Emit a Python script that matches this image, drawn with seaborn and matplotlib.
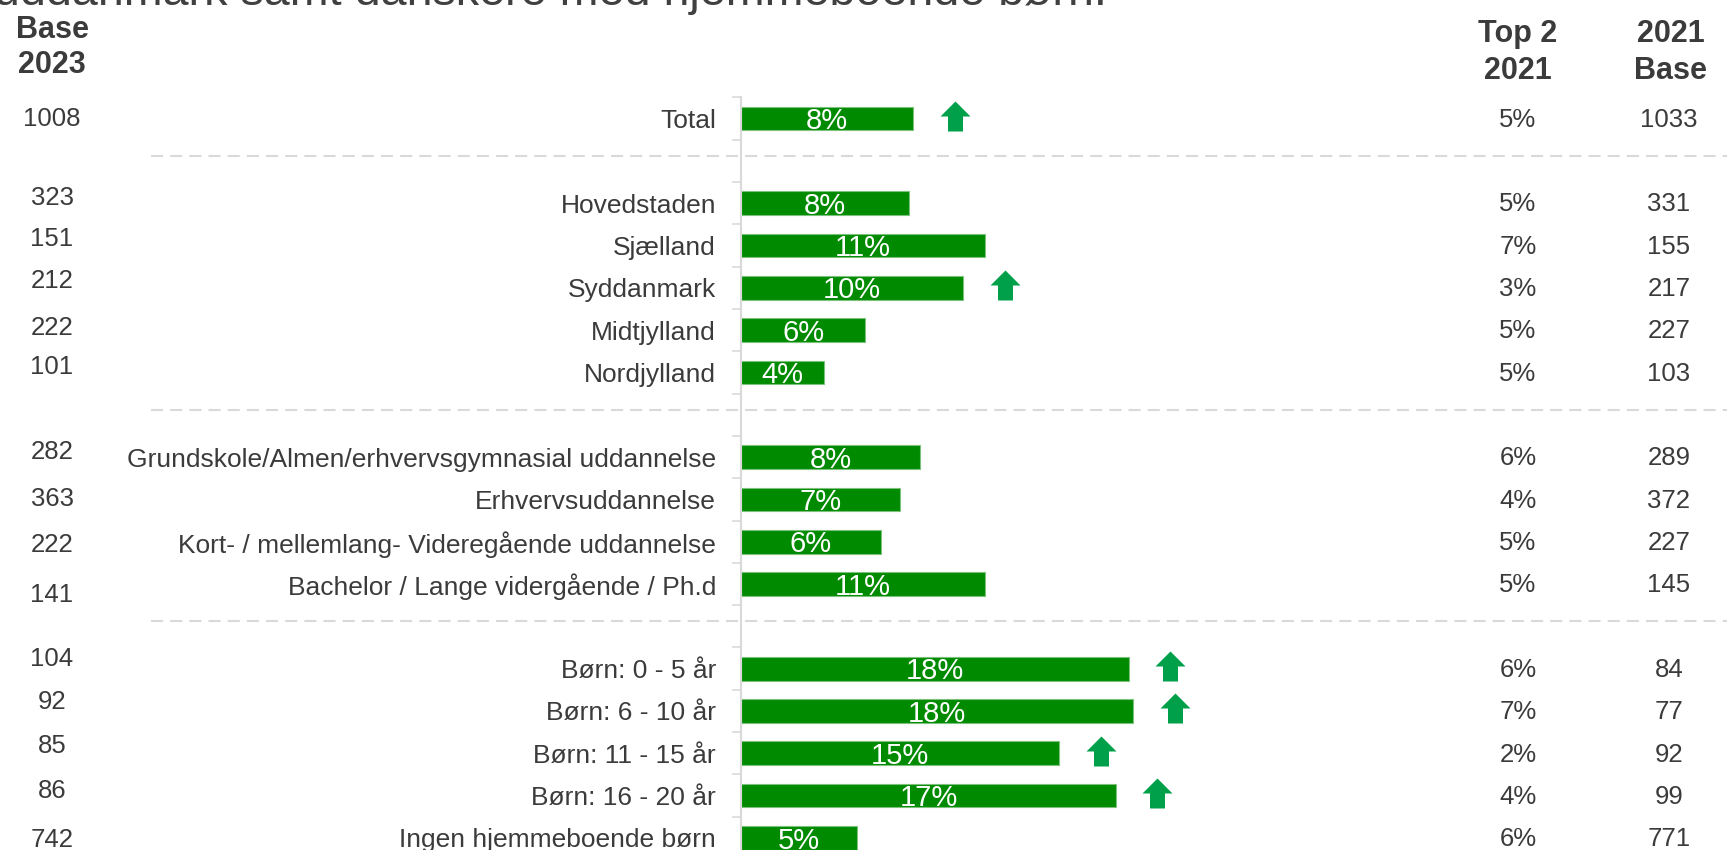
import matplotlib

matplotlib.use("Agg")

import matplotlib.pyplot as plt
import matplotlib.transforms as mtransforms
import numpy as np
import pandas as pd
import seaborn as sns
from matplotlib.path import Path


categories = [
    "Total",
    "Hovedstaden",
    "Sjælland",
    "Syddanmark",
    "Midtjylland",
    "Nordjylland",
    "Grundskole/Almen/erhvervsgymnasial uddannelse",
    "Erhvervsuddannelse",
    "Kort- / mellemlang- Videregående uddannelse",
    "Bachelor / Lange vidergående / Ph.d",
    "Børn: 0 - 5 år",
    "Børn: 6 - 10 år",
    "Børn: 11 - 15 år",
    "Børn: 16 - 20 år",
    "Ingen hjemmeboende børn",
]
group_sizes = [1, 5, 4, 5]
top2_2023 = [7.9, 7.7, 11.2, 10.2, 5.7, 3.8, 8.2, 7.3, 6.4, 11.2, 17.8, 18.0, 14.6, 17.2, 5.3]
base_2023 = [1008, 323, 151, 212, 222, 101, 282, 363, 222, 141, 104, 92, 85, 86, 742]
top2_2021 = [5, 5, 7, 3, 5, 5, 6, 4, 5, 5, 6, 7, 2, 4, 6]
base_2021 = [1033, 331, 155, 217, 227, 103, 289, 372, 227, 145, 84, 77, 92, 99, 771]
sig_up = [True, False, False, True, False, False, False, False, False, False,
          True, True, True, True, False]

title_tail = "uddanmark samt danskere med hjemmeboende børn."

# the left base column is not quite aligned with the rows in the original slide
base_nudge = [0.0, -0.12, -0.15, -0.17, -0.05, -0.12, -0.12, -0.02, 0.08, 0.25,
              -0.22, -0.22, -0.17, -0.12, 0.05]

GREEN = "#008a00"
ARROW = "#00a04a"
TEXT = "#3b3b3b"
GRID = "#d9d9d9"

sns.set_theme(style="white")
plt.rcParams["font.family"] = ["Liberation Sans", "DejaVu Sans"]

# row positions with one empty slot between groups
positions = []
spacers = []
p = 0
for i, n in enumerate(group_sizes):
    if i > 0:
        spacers.append(p)
        p += 1
    for _ in range(n):
        positions.append(p)
        p += 1
n_rows = p

df = pd.DataFrame({"category": categories, "value": top2_2023, "pos": positions})

W, H = 1727, 850
fig = plt.figure(figsize=(W / 100, H / 100), dpi=100)
row_px = 42.32
top_px = 118.5 - row_px / 2
bottom_px = top_px + row_px * n_rows
left_px = 741
ax = fig.add_axes([left_px / W, 1 - bottom_px / H, (W - left_px) / W, (bottom_px - top_px) / H])

sns.barplot(
    data=df, x="value", y="pos", orient="h", native_scale=True,
    color=GREEN, width=0.56, errorbar=None, ax=ax,
    edgecolor="#7cc27c", linewidth=0.8, saturation=1,
)

ax.set_xlim(0, (W - left_px) / 21.8)
ax.set_ylim(n_rows - 0.5, -0.5)
ax.set_xlabel("")
ax.set_ylabel("")
ax.set_xticks([])
ax.set_yticks(positions)
ax.set_yticklabels(categories, fontsize=19, color=TEXT)
ax.set_yticks(np.arange(-0.5, n_rows, 1.0), minor=True)
ax.tick_params(axis="y", which="major", length=0, pad=18)
ax.tick_params(axis="y", which="minor", length=6.5, width=1.2, color=GRID, left=True)
for side in ["top", "right", "bottom"]:
    ax.spines[side].set_visible(False)
ax.spines["left"].set_color(GRID)
ax.spines["left"].set_linewidth(1.5)

# value labels inside bars
for v, y in zip(top2_2023, positions):
    ax.text(v / 2, y - 0.01, f"{v:.0f}%", color="white", fontsize=21,
            ha="center", va="center_baseline")

# significance arrows
arrow = Path([(0, 0.5), (0.5, 0), (0.25, 0), (0.25, -0.5), (-0.25, -0.5),
              (-0.25, 0), (-0.5, 0), (0, 0.5)], closed=True)
ups = df[np.array(sig_up)]
ax.plot(ups["value"] + 1.9, ups["pos"] - 0.06, ls="none", marker=arrow,
        markersize=21.6, color=ARROW, markeredgewidth=0)

# dashed separators between groups
sep_tr = ax.get_yaxis_transform()
x0 = (151 - left_px) / (W - left_px)
for s in spacers:
    ax.plot([x0, 1.0], [s - 0.12, s - 0.12], transform=sep_tr, color=GRID,
            lw=1.5, dashes=(5.8, 3.4), clip_on=False)

# side columns
col_tr = mtransforms.blended_transform_factory(fig.transFigure, ax.transData)
for y, nud, b23, t21, b21 in zip(positions, base_nudge, base_2023, top2_2021, base_2021):
    ax.text(52 / W, y + nud, f"{b23}", transform=col_tr, ha="center", va="center",
            fontsize=18.5, color=TEXT, clip_on=False)
    ax.text(1518 / W, y + 0.03, f"{t21}%", transform=col_tr, ha="center", va="center",
            fontsize=18.5, color=TEXT, clip_on=False)
    ax.text(1669 / W, y + 0.03, f"{b21}", transform=col_tr, ha="center", va="center",
            fontsize=18.5, color=TEXT, clip_on=False)

head = dict(ha="center", va="center", fontsize=22, fontweight="bold", color=TEXT)
fig.text(52 / W, 1 - 30 / H, "Base", **head)
fig.text(52 / W, 1 - 65 / H, "2023", **head)
fig.text(1518 / W, 1 - 34 / H, "Top 2", **head)
fig.text(1518 / W, 1 - 71 / H, "2021", **head)
fig.text(1671 / W, 1 - 34 / H, "2021", **head)
fig.text(1671 / W, 1 - 71 / H, "Base", **head)

# title, cropped at the top edge
fig.text(-6 / W, 1 - 5 / H, title_tail, fontsize=33.6, color="#404040",
         ha="left", va="baseline")

fig.savefig("out.png", dpi=100)
plt.close(fig)
